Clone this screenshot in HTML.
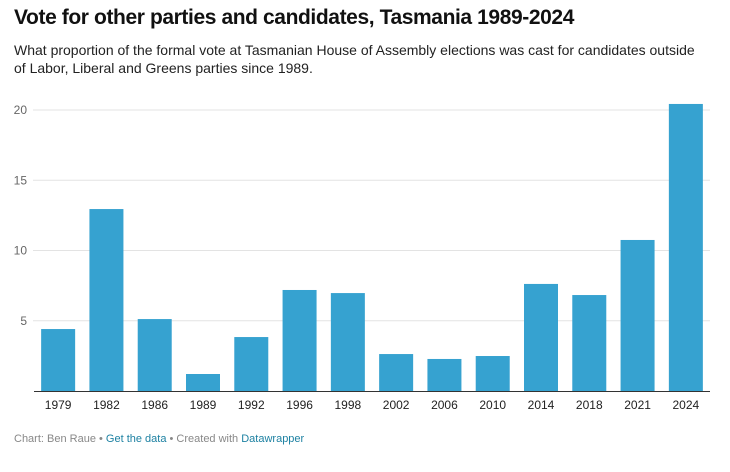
<!DOCTYPE html>
<html><head><meta charset="utf-8">
<style>
body{margin:0;background:#fff;font-family:"Liberation Sans",sans-serif;}
.wrap{position:relative;width:730px;height:472px;overflow:hidden;}
h1{position:absolute;left:14px;top:6px;margin:0;font-size:21px;font-weight:bold;color:#111;letter-spacing:-0.4px;}
.sub{position:absolute;left:14px;top:41px;width:700px;font-size:14px;line-height:18px;color:#222;}
.foot{position:absolute;left:14px;top:433px;font-size:11px;color:#888;}
.foot a{color:#1d81a2;text-decoration:none;}
svg{position:absolute;left:0;top:0;}
</style></head><body>
<div class="wrap">
<h1>Vote for other parties and candidates, Tasmania 1989-2024</h1>
<div class="sub">What proportion of the formal vote at Tasmanian House of Assembly elections was cast for candidates outside<br>of Labor, Liberal and Greens parties since 1989.</div>
<svg id="chart" width="730" height="472"></svg>
<div class="foot">Chart: Ben Raue • <a>Get the data</a> • Created with <a>Datawrapper</a></div>
</div>
<script>
const categories=["1979","1982","1986","1989","1992","1996","1998","2002","2006","2010","2014","2018","2021","2024"];
const values=[4.41,12.95,5.12,1.21,3.84,7.19,6.97,2.63,2.28,2.49,7.62,6.83,10.75,20.43];
const yTicks=[5,10,15,20];
const svg=document.getElementById('chart');
const NS='http://www.w3.org/2000/svg';
const x0=34,x1=710,y0=391,yTop=110,yMaxV=20;
const y=v=>y0-(v/yMaxV)*(y0-yTop);
const step=(x1-x0)/categories.length;
const bw=34;
const xc=i=>x0+step*(i+0.5);
function mk(t,a){const e=document.createElementNS(NS,t);for(const k in a)e.setAttribute(k,a[k]);svg.appendChild(e);return e;}
yTicks.forEach(t=>{
  const l=mk('line',{x1:33,x2:x1,y1:y(t),y2:y(t),stroke:'#e3e3e3','stroke-width':1});
  
  
  const tx=mk('text',{x:27,y:y(t)+4,'font-size':12,fill:'#666','text-anchor':'end','font-family':'Liberation Sans, sans-serif'});
  tx.textContent=t;
  
  
});
values.forEach((v,i)=>{
  const r=mk('rect',{x:xc(i)-bw/2,y:y(v),width:bw,height:y0-y(v),fill:'#36a2d0'});
  
  
  const tx=mk('text',{x:xc(i),y:409,'font-size':12,fill:'#222','text-anchor':'middle','font-family':'Liberation Sans, sans-serif'});
  tx.textContent=categories[i];
  
  
});
const ax=mk('line',{x1:x0,x2:x1,y1:y0+0.5,y2:y0+0.5,stroke:'#333','stroke-width':1});


</script>
</body></html>
